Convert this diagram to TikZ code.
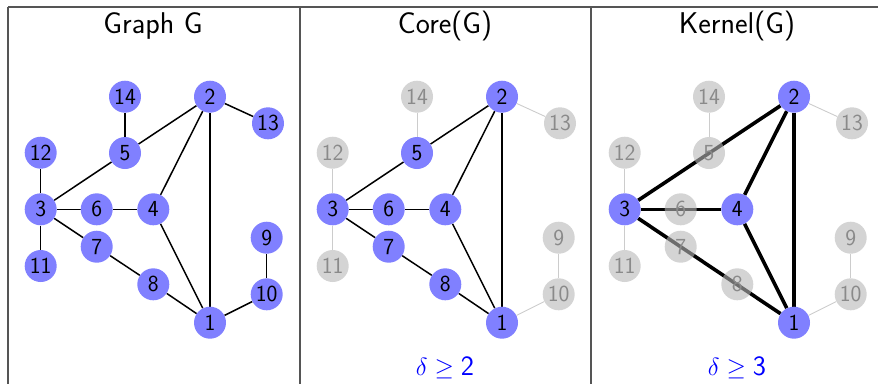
\documentclass[tikz,border=0pt]{standalone}
\usetikzlibrary{backgrounds}
\definecolor{nodeblue}{HTML}{8080FF}
\definecolor{nodegray}{HTML}{D4D4D4}
\definecolor{nodegrayt}{HTML}{B7B7B7}
\definecolor{textgray}{HTML}{8A8A8A}
\definecolor{edgegray}{HTML}{CCCCCC}
\definecolor{framegray}{HTML}{555555}
\tikzset{
  vb/.style={circle, fill=nodeblue, minimum size=32pt, inner sep=0pt,
    font=\sffamily\fontsize{23}{23}\selectfont, text=black},
  vg/.style={vb, fill=nodegray, text=textgray},
  vgt/.style={vg, fill=nodegrayt, fill opacity=0.6, text opacity=1},
  eb/.style={black, line width=1.5pt},
  ek/.style={black, line width=3.6pt},
  eg/.style={edgegray, line width=0.9pt},
  ttl/.style={font=\sffamily\fontsize{30}{30}\selectfont, anchor=base},
  dlt/.style={font=\fontsize{28}{28}\selectfont, text=blue, anchor=base},
  frame/.style={framegray, line width=1.1pt},
}
\begin{document}
\begin{tikzpicture}[x=1pt,y=-1pt]
\useasboundingbox (0,0) rectangle (878,384);
% frame
\draw[frame] (8,7) -- (878,7);
\draw[frame] (8,7) -- (8,384);
\draw[frame] (300,7) -- (300,384);
\draw[frame] (591,7) -- (591,384);
% titles
\node[ttl] (t1) at (153,33) {Graph G};
\node[ttl] (t2) at (445,33) {Core(G)};
\node[ttl] (t3) at (737,33) {Kernel(G)};
\node[dlt] (d2) at (445,375) {$\delta \geq \mbox{\sffamily 2}$};
\node[dlt] (d3) at (737,375) {$\delta \geq \mbox{\sffamily 3}$};

% ---------- Panel 1: Graph G ----------
\begin{scope}
\node[vb] (a1) at (210,322.7) {1};
\node[vb] (a2) at (210,96.7) {2};
\node[vb] (a3) at (40.7,209.3) {3};
\node[vb] (a4) at (153.3,209.3) {4};
\node[vb] (a5) at (125,153) {5};
\node[vb] (a6) at (96.7,209.3) {6};
\node[vb] (a7) at (96.7,246.7) {7};
\node[vb] (a8) at (153.3,284.3) {8};
\node[vb] (a9) at (266.7,237.7) {9};
\node[vb] (a10) at (266.7,294.3) {10};
\node[vb] (a11) at (40.7,266) {11};
\node[vb] (a12) at (40.7,152.7) {12};
\node[vb] (a13) at (268,123.3) {13};
\node[vb] (a14) at (125,96.7) {14};
\begin{pgfonlayer}{background}
\draw[eb] (a14) -- (a5);
\draw[eb] (a2) -- (a13);
\draw[eb] (a5) -- (a2);
\draw[eb] (a5) -- (a3);
\draw[eb] (a12) -- (a3);
\draw[eb] (a3) -- (a11);
\draw[eb] (a3) -- (a6);
\draw[eb] (a6) -- (a4);
\draw[eb] (a3) -- (a7);
\draw[eb] (a7) -- (a8);
\draw[eb] (a8) -- (a1);
\draw[eb] (a4) -- (a2);
\draw[eb] (a4) -- (a1);
\draw[eb] (a2) -- (a1);
\draw[eb] (a1) -- (a10);
\draw[eb] (a9) -- (a10);
\end{pgfonlayer}
\end{scope}

% ---------- Panel 2: Core(G) ----------
\begin{scope}[xshift=292pt]
\node[vb] (b1) at (210,322.7) {1};
\node[vb] (b2) at (210,96.7) {2};
\node[vb] (b3) at (40.7,209.3) {3};
\node[vb] (b4) at (153.3,209.3) {4};
\node[vb] (b5) at (125,153) {5};
\node[vb] (b6) at (96.7,209.3) {6};
\node[vb] (b7) at (96.7,246.7) {7};
\node[vb] (b8) at (153.3,284.3) {8};
\node[vg] (b9) at (266.7,237.7) {9};
\node[vg] (b10) at (266.7,294.3) {10};
\node[vg] (b11) at (40.7,266) {11};
\node[vg] (b12) at (40.7,152.7) {12};
\node[vg] (b13) at (268,123.3) {13};
\node[vg] (b14) at (125,96.7) {14};
\begin{pgfonlayer}{background}
\draw[eg] (b14) -- (b5);
\draw[eg] (b2) -- (b13);
\draw[eb] (b5) -- (b2);
\draw[eb] (b5) -- (b3);
\draw[eg] (b12) -- (b3);
\draw[eg] (b3) -- (b11);
\draw[eb] (b3) -- (b6);
\draw[eb] (b6) -- (b4);
\draw[eb] (b3) -- (b7);
\draw[eb] (b7) -- (b8);
\draw[eb] (b8) -- (b1);
\draw[eb] (b4) -- (b2);
\draw[eb] (b4) -- (b1);
\draw[eb] (b2) -- (b1);
\draw[eg] (b1) -- (b10);
\draw[eg] (b9) -- (b10);
\end{pgfonlayer}
\end{scope}

% ---------- Panel 3: Kernel(G) ----------
\begin{scope}[xshift=584pt]
\node[vb] (c1) at (210,322.7) {1};
\node[vb] (c2) at (210,96.7) {2};
\node[vb] (c3) at (40.7,209.3) {3};
\node[vb] (c4) at (153.3,209.3) {4};
\node[vgt] (c5) at (125,153) {5};
\node[vgt] (c6) at (96.7,209.3) {6};
\node[vgt] (c7) at (96.7,246.7) {7};
\node[vgt] (c8) at (153.3,284.3) {8};
\node[vg] (c9) at (266.7,237.7) {9};
\node[vg] (c10) at (266.7,294.3) {10};
\node[vg] (c11) at (40.7,266) {11};
\node[vg] (c12) at (40.7,152.7) {12};
\node[vg] (c13) at (268,123.3) {13};
\node[vg] (c14) at (125,96.7) {14};
\begin{pgfonlayer}{background}
\draw[eg] (c14) -- (c5);
\draw[eg] (c2) -- (c13);
\draw[eg] (c12) -- (c3);
\draw[eg] (c3) -- (c11);
\draw[eg] (c1) -- (c10);
\draw[eg] (c9) -- (c10);
\draw[ek] (c3) -- (c2);
\draw[ek] (c3) -- (c4);
\draw[ek] (c3) -- (c1);
\draw[ek] (c4) -- (c2);
\draw[ek] (c4) -- (c1);
\draw[ek] (c2) -- (c1);
\end{pgfonlayer}
\end{scope}
\end{tikzpicture}
\end{document}
